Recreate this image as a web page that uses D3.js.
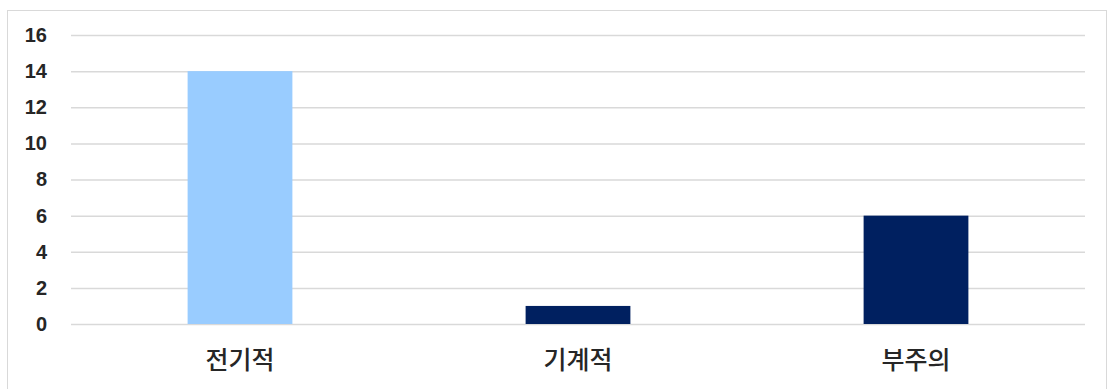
<!DOCTYPE html>
<html><head><meta charset="utf-8">
<script src="https://cdn.jsdelivr.net/npm/d3@7"></script>
<style>body{margin:0;background:#fff}svg{display:block}</style>
</head><body>
<svg id="c" width="1108" height="389"></svg>
<script>
const categories = ["전기적", "기계적", "부주의"];
const values = [14, 1, 6];
const barColors = ["#99CCFF", "#002060", "#002060"];
const yTicks = [0, 2, 4, 6, 8, 10, 12, 14, 16];

const svg = d3.select("#c");
svg.append("rect").attr("x", 7.5).attr("y", 10.5).attr("width", 1099).attr("height", 390)
  .attr("fill", "#fff").attr("stroke", "#d9d9d9");

const x = d3.scaleBand().domain(categories).range([71, 1085]).paddingInner(0.69).paddingOuter(0.345);
const y = d3.scaleLinear().domain([0, 16]).range([324, 35]);

const yAxis = svg.append("g").attr("transform", "translate(71,0)")
  .call(d3.axisLeft(y).tickValues(yTicks).tickSize(-1014).tickPadding(24));
yAxis.select(".domain").remove();
yAxis.selectAll(".tick line").attr("stroke", "#d9d9d9").attr("stroke-width", 1.5);
yAxis.selectAll(".tick text").attr("font-family", "Liberation Sans, Arial, sans-serif")
  .attr("font-weight", "bold").attr("font-size", 20).attr("fill", "#262626");

svg.append("g").selectAll("rect").data(values).join("rect")
  .attr("x", (d, i) => x(categories[i]))
  .attr("width", x.bandwidth())
  .attr("y", d => y(d))
  .attr("height", d => y(0) - y(d))
  .attr("fill", (d, i) => barColors[i]);

const xAxis = svg.append("g").attr("transform", "translate(0,324)")
  .call(d3.axisBottom(x).tickSize(0).tickPadding(27));
xAxis.select(".domain").remove();
xAxis.selectAll(".tick text").attr("font-family", "Noto Sans CJK KR, sans-serif")
  .attr("font-weight", 500).attr("font-size", 25).attr("fill", "#262626");
</script>
</body></html>
